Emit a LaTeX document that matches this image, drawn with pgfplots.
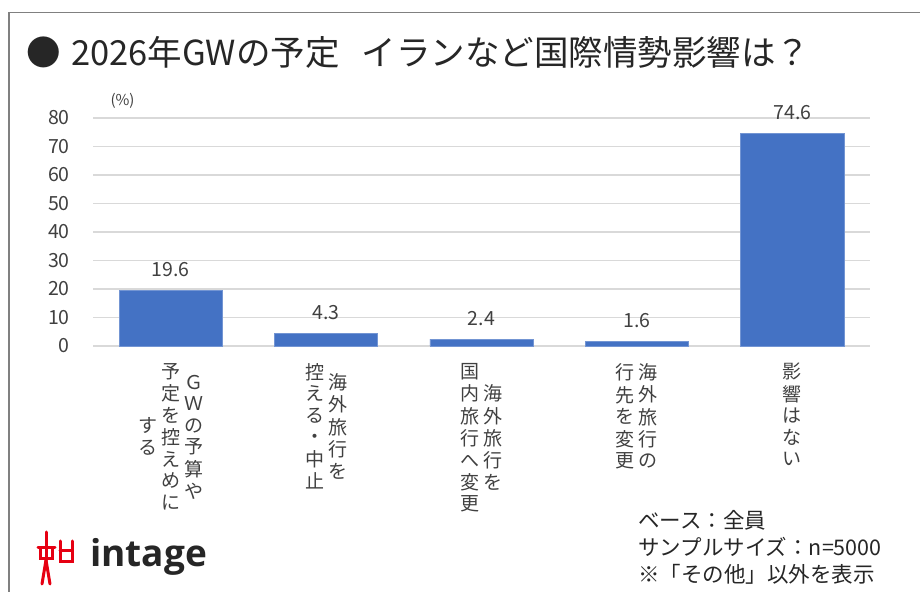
\documentclass[border=0pt]{standalone}
\usepackage{fontspec}
\setmainfont{Noto Sans CJK JP}
\newfontfamily\logofont{Open Sans}
\usepackage{pgfplots}
\pgfplotsset{compat=1.18}
\definecolor{barblue}{HTML}{4472C4}
\definecolor{gridgray}{HTML}{D9D9D9}
\definecolor{txt}{HTML}{404040}
\definecolor{ttl}{HTML}{262626}
\definecolor{framegray}{HTML}{808080}
\definecolor{logored}{HTML}{E60012}
\newcommand{\vc}[1]{\begin{tabular}[c]{@{}c@{}}#1\end{tabular}}
\newcommand{\cgap}{\hspace{4bp}}
\newcommand{\labA}{\vc{す\\る}\cgap\vc{予\\定\\を\\控\\え\\め\\に}\cgap\vc{Ｇ\\Ｗ\\の\\予\\算\\や}}
\newcommand{\labB}{\vc{控\\え\\る\\・\\中\\止}\cgap\vc{海\\外\\旅\\行\\を}}
\newcommand{\labC}{\vc{国\\内\\旅\\行\\へ\\変\\更}\cgap\vc{海\\外\\旅\\行\\を}}
\newcommand{\labD}{\vc{行\\先\\を\\変\\更}\cgap\vc{海\\外\\旅\\行\\の}}
\newcommand{\labE}{\vc{影\\響\\は\\な\\い}}
\begin{document}
\begin{tikzpicture}
\path[use as bounding box] (0bp,0bp) rectangle (920bp,592bp);
% frame
\draw[framegray, line width=1.4bp] (9bp,0bp) -- (9bp,579.3bp) -- (920bp,579.3bp);
% title
\node[anchor=base west, inner sep=0pt, text=ttl, font=\fontsize{34.5bp}{40bp}\selectfont] at (26bp,526bp) {●\hspace{0.3em}2026年GWの予定\hspace{0.65em}イランなど国際情勢影響は？};
% unit
\node[anchor=center, inner sep=0pt, text=txt, font=\fontsize{15bp}{18bp}\selectfont] at (122.5bp,491bp) {(\%)};
\begin{axis}[
  at={(93bp,246bp)}, anchor=south west,
  scale only axis, width=777bp, height=228bp,
  xmin=-0.5, xmax=4.5, ymin=0, ymax=80,
  enlargelimits=false,
  axis line style={draw=none},
  major tick length=0pt,
  ytick={0,10,...,80},
  ymajorgrids, grid style={gridgray, line width=1.2bp},
  xtick={0,1,2,3,4},
  xticklabels={\labA,\labB,\labC,\labD,\labE},
  /pgf/number format/assume math mode=true,
  tick label style={text=txt},
  yticklabel style={font=\fontsize{19.5bp}{22bp}\selectfont, inner sep=0pt, xshift=-23bp},
  xticklabel style={font=\fontsize{19bp}{21.5bp}\selectfont, inner sep=0pt, anchor=north, yshift=-17bp},
  nodes near coords,
  every node near coord/.append style={anchor=south, inner sep=0pt, yshift=13.5bp, text=txt, font=\fontsize{19.5bp}{22bp}\selectfont},
  clip=false,
]
\addplot[ybar, bar width=0.663, fill=barblue, draw=barblue!75!white, line width=0.6bp]
  coordinates {(0,19.6) (1,4.3) (2,2.4) (3,1.6) (4,74.6)};
\end{axis}
% footer notes
\begin{scope}[every node/.style={anchor=west, inner sep=0pt, text=ttl, font=\fontsize{21.5bp}{24bp}\selectfont}]
\node at (638bp,72bp) {ベース：全員};
\node at (638bp,45bp) {サンプルサイズ：n=5000};
\node at (638bp,18bp) {※「その他」以外を表示};
\end{scope}
% logo
\begin{scope}[logored, line width=3bp, line cap=round]
\draw (46bp,60bp) -- (46bp,32bp);
\draw (38bp,44bp) -- (55bp,44bp);
\draw (40bp,44bp) -- (40bp,33bp) -- (52bp,33bp) -- (52bp,44bp);
\draw (46bp,32bp) -- (42bp,8bp);
\draw (46bp,32bp) -- (50bp,8bp);
\draw (60bp,51bp) -- (60bp,30bp) -- (72bp,30bp) -- (72bp,51bp);
\draw (60bp,41bp) -- (72bp,41bp);
\end{scope}
\node[anchor=base west, inner sep=0pt, font=\logofont\bfseries\fontsize{37bp}{40bp}\selectfont, text=black!85] at (90bp,26bp) {intage};
\end{tikzpicture}
\end{document}
